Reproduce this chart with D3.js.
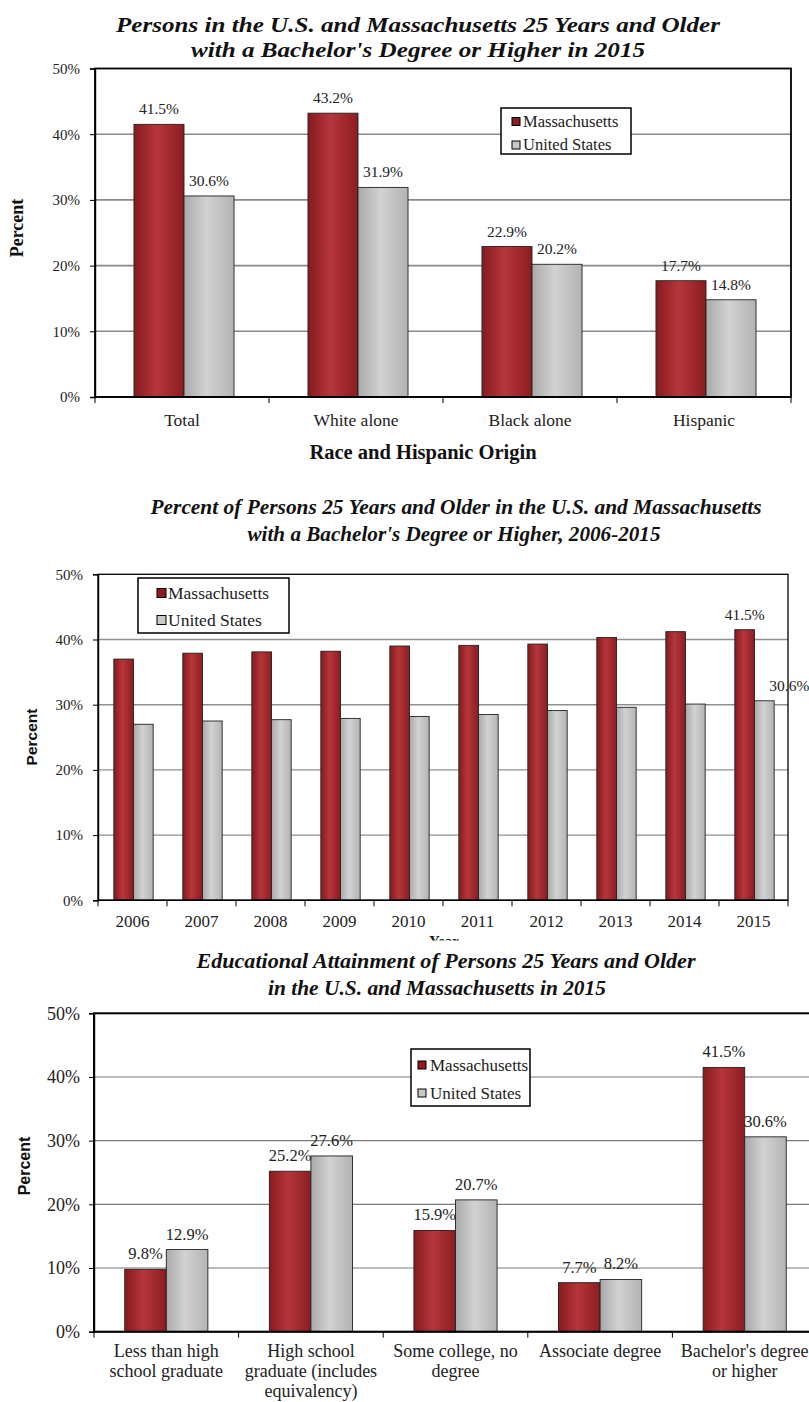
<!DOCTYPE html>
<html><head><meta charset="utf-8">
<script src="https://cdn.jsdelivr.net/npm/d3@7"></script>
<style>
html,body{margin:0;padding:0;background:#fff;}
svg{display:block;}
</style></head>
<body>
<svg id="c" width="809" height="1402"></svg>
<script>
// ---------------- DATA ----------------
const series = ["Massachusetts", "United States"];

const raceCategories = ["Total", "White alone", "Black alone", "Hispanic"];
const raceMA = [41.5, 43.2, 22.9, 17.7];
const raceUS = [30.6, 31.9, 20.2, 14.8];

const years = ["2006","2007","2008","2009","2010","2011","2012","2013","2014","2015"];
const yearMA = [37.0, 37.9, 38.1, 38.2, 39.0, 39.1, 39.3, 40.3, 41.2, 41.5];
const yearUS = [27.0, 27.5, 27.7, 27.9, 28.2, 28.5, 29.1, 29.6, 30.1, 30.6];
const yearLabeled = ["2015"];

const eduCategories = [
  ["Less than high", "school graduate"],
  ["High school", "graduate (includes", "equivalency)"],
  ["Some college, no", "degree"],
  ["Associate degree"],
  ["Bachelor's degree", "or higher"]
];
const eduMA = [9.8, 25.2, 15.9, 7.7, 41.5];
const eduUS = [12.9, 27.6, 20.7, 8.2, 30.6];

const yTicks = [0, 10, 20, 30, 40, 50];

const titles1 = ["Persons in the U.S. and Massachusetts 25 Years and Older", "with a Bachelor's Degree or Higher in 2015"];
const titles2 = ["Percent of Persons 25 Years and Older in the U.S. and Massachusetts", "with a Bachelor's Degree or Higher, 2006-2015"];
const titles3 = ["Educational Attainment of Persons 25 Years and Older", "in the U.S. and Massachusetts in 2015"];

// ---------------- DRAW ----------------
const SERIF = "'Liberation Serif','Times New Roman',serif";
const SANS = "'Liberation Sans',Arial,sans-serif";
const svg = d3.select("#c");
svg.append("rect").attr("width", 809).attr("height", 1402).attr("fill", "#fff");

const defs = svg.append("defs");
function grad(id, stops) {
  const g = defs.append("linearGradient").attr("id", id).attr("x1", "0").attr("x2", "1").attr("y1", "0").attr("y2", "0");
  stops.forEach(s => g.append("stop").attr("offset", s[0]).attr("stop-color", s[1]));
}
grad("gMA", [["0", "#861a1e"], ["0.45", "#b5363a"], ["1", "#8c1c21"]]);
grad("gUS", [["0", "#a9a9a9"], ["0.45", "#d2d2d2"], ["1", "#b3b3b3"]]);
const fills = {"Massachusetts": "url(#gMA)", "United States": "url(#gUS)"};
const swatch = {"Massachusetts": "#8e1b20", "United States": "#c8c8c8"};

function titleBlock(lines, specs, size) {
  lines.forEach((t, i) => {
    const s = specs[i];
    svg.append("text").attr("x", s[0]).attr("y", s[1])
      .attr("text-anchor", "middle")
      .attr("font-family", SERIF).attr("font-weight", "bold").attr("font-style", "italic")
      .attr("font-size", size)
      .attr("textLength", s[2]).attr("lengthAdjust", "spacingAndGlyphs")
      .attr("fill", "#111")
      .text(t);
  });
}

function drawChart(c) {
  const g = svg.append("g");
  const keys = c.cats.map(d => Array.isArray(d) ? d.join(" ") : d);
  const x = d3.scaleBand().domain(keys).range([c.left, c.right]).padding(0);
  const y = d3.scaleLinear().domain([0, 50]).range([c.bottom, c.top]);
  const pairW = x.bandwidth() * c.pairFrac;
  const xs = d3.scaleBand().domain(series).range([0, pairW]).padding(0);

  // gridlines
  g.append("g").selectAll("line").data(yTicks.filter(t => t > 0 && t < 50)).join("line")
    .attr("x1", c.left).attr("x2", c.frameRight)
    .attr("y1", d => y(d)).attr("y2", d => y(d))
    .attr("stroke", c.gridColor).attr("stroke-width", c.gridWidth);

  // bars
  const rows = [];
  keys.forEach((k, i) => {
    rows.push({k, s: "Massachusetts", v: c.ma[i], i});
    rows.push({k, s: "United States", v: c.us[i], i});
  });
  const bx = d => x(d.k) + (x.bandwidth() - pairW) / 2 + xs(d.s) + (c.shift || 0);
  g.append("g").selectAll("rect").data(rows).join("rect")
    .attr("x", bx).attr("width", xs.bandwidth())
    .attr("y", d => y(d.v)).attr("height", d => y(0) - y(d.v))
    .attr("fill", d => fills[d.s])
    .attr("stroke", "#222").attr("stroke-width", 0.9);

  // data labels
  g.append("g").selectAll("text").data(rows.filter(d => c.labelFilter(d))).join("text")
    .attr("x", d => bx(d) + xs.bandwidth() / 2 + (d.s === "United States" ? (c.usLabelDx || 0) : 0))
    .attr("y", d => y(d.v) - c.labelGap)
    .attr("text-anchor", "middle")
    .attr("font-family", SERIF).attr("font-size", c.labelSize).attr("fill", "#222")
    .text(d => d3.format(".1f")(d.v) + "%");

  // frame
  g.append("rect").attr("x", c.left).attr("y", c.top)
    .attr("width", c.frameRight - c.left).attr("height", c.bottom - c.top)
    .attr("fill", "none").attr("stroke", "#000").attr("stroke-width", c.frameWidth);

  // y axis
  const ya = g.append("g").attr("transform", `translate(${c.left},0)`)
    .call(d3.axisLeft(y).tickValues(yTicks).tickFormat(d => d + "%").tickSize(5).tickPadding(c.tickPad));
  ya.select(".domain").attr("stroke", "#000").attr("stroke-width", 1.4);
  ya.selectAll(".tick line").attr("stroke", "#000");
  ya.selectAll("text").attr("font-family", SERIF).attr("font-size", c.tickSize).attr("fill", "#222");

  // x axis boundary ticks
  const bounds = keys.map(k => x(k)).concat([c.right]);
  g.append("g").selectAll("line").data(bounds).join("line")
    .attr("x1", d => d).attr("x2", d => d)
    .attr("y1", c.bottom).attr("y2", c.bottom + 6)
    .attr("stroke", "#000").attr("stroke-width", 1);
  g.append("line").attr("x1", c.left).attr("x2", c.frameRight)
    .attr("y1", c.bottom).attr("y2", c.bottom).attr("stroke", "#000").attr("stroke-width", 1.6);

  // category labels
  const cl = g.append("g").selectAll("text").data(c.cats).join("text")
    .attr("text-anchor", "middle")
    .attr("font-family", SERIF).attr("font-size", c.catSize).attr("fill", "#222")
    .attr("transform", (d, i) => `translate(${x(keys[i]) + x.bandwidth() / 2},${c.catBaseline})`);
  cl.each(function(d) {
    const lines = Array.isArray(d) ? d : [d];
    d3.select(this).selectAll("tspan").data(lines).join("tspan")
      .attr("x", 0).attr("y", (l, j) => j * c.catLine).text(l => l);
  });

  // Percent label
  g.append("text")
    .attr("transform", `translate(${c.pct.x},${c.pct.y}) rotate(-90)`)
    .attr("text-anchor", "middle")
    .attr("font-family", c.pct.family).attr("font-weight", "bold").attr("font-size", c.pct.size)
    .attr("fill", "#111").text("Percent");

  // legend
  const L = c.legend;
  const lg = g.append("g");
  lg.append("rect").attr("x", L.x).attr("y", L.y).attr("width", L.w).attr("height", L.h)
    .attr("fill", "#fff").attr("stroke", "#000").attr("stroke-width", 1.5);
  series.forEach((s, i) => {
    const cy = L.y + L.rows[i];
    lg.append("rect").attr("x", L.sx).attr("y", cy - L.ss / 2).attr("width", L.ss).attr("height", L.ss)
      .attr("fill", swatch[s]).attr("stroke", "#000").attr("stroke-width", 1);
    lg.append("text").attr("x", L.tx).attr("y", cy + L.size * 0.33)
      .attr("font-family", SERIF).attr("font-size", L.size).attr("fill", "#222").text(s);
  });
  return {x, y};
}

// ---- Chart 1 ----
titleBlock(titles1, [[418, 32, 604], [418, 57, 454]], 22);
drawChart({
  cats: raceCategories, ma: raceMA, us: raceUS,
  left: 95, right: 791, frameRight: 791, top: 68.5, bottom: 397,
  pairFrac: 0.575, shift: 2,
  gridColor: "#8a8a8a", gridWidth: 1.6, frameWidth: 1.8,
  tickSize: 15, tickPad: 10,
  labelFilter: () => true, labelGap: 10, labelSize: 15.5,
  catSize: 17.5, catBaseline: 426, catLine: 20,
  pct: {x: 23, y: 228, size: 18, family: SERIF},
  legend: {x: 501, y: 108, w: 130, h: 46, rows: [13.5, 37], sx: 512, ss: 8, tx: 523, size: 16.5}
});
svg.append("text").attr("x", 423).attr("y", 459).attr("text-anchor", "middle")
  .attr("font-family", SERIF).attr("font-weight", "bold").attr("font-size", 20.5)
  .attr("fill", "#111").text("Race and Hispanic Origin");

// ---- Chart 2 ----
titleBlock(titles2, [[456, 514, 611], [454, 541, 413]], 21);
drawChart({
  cats: years, ma: yearMA, us: yearUS,
  left: 98, right: 788, frameRight: 788, top: 574.3, bottom: 900.3,
  pairFrac: 0.57, shift: 1,
  gridColor: "#909090", gridWidth: 1.4, frameWidth: 1.3,
  tickSize: 15, tickPad: 10,
  labelFilter: d => yearLabeled.includes(d.k), labelGap: 10, labelSize: 15.5, usLabelDx: 25,
  catSize: 17, catBaseline: 927, catLine: 20,
  pct: {x: 37, y: 737, size: 15.5, family: SANS},
  legend: {x: 138, y: 578, w: 151, h: 55, rows: [15, 42], sx: 157, ss: 9, tx: 168, size: 17.5}
});
svg.append("defs").append("clipPath").attr("id", "yearClip").append("rect")
  .attr("x", 0).attr("y", 0).attr("width", 809).attr("height", 940.5);
svg.append("text").attr("x", 444).attr("y", 946).attr("text-anchor", "middle")
  .attr("clip-path", "url(#yearClip)")
  .attr("font-family", SERIF).attr("font-weight", "bold").attr("font-size", 15)
  .attr("fill", "#111").text("Year");

// ---- Chart 3 ----
titleBlock(titles3, [[446, 968, 499], [437, 995, 338]], 21);
drawChart({
  cats: eduCategories, ma: eduMA, us: eduUS,
  left: 94, right: 817, frameRight: 817, top: 1013.3, bottom: 1331.7,
  pairFrac: 0.575, shift: 0,
  gridColor: "#7a7a7a", gridWidth: 1.2, frameWidth: 2,
  tickSize: 18, tickPad: 9,
  labelFilter: () => true, labelGap: 10, labelSize: 16.5,
  catSize: 18, catBaseline: 1357, catLine: 20,
  pct: {x: 30, y: 1166, size: 16, family: SANS},
  legend: {x: 411, y: 1049, w: 119, h: 57, rows: [16, 44], sx: 418, ss: 8, tx: 430, size: 17}
});
</script>
</body></html>
